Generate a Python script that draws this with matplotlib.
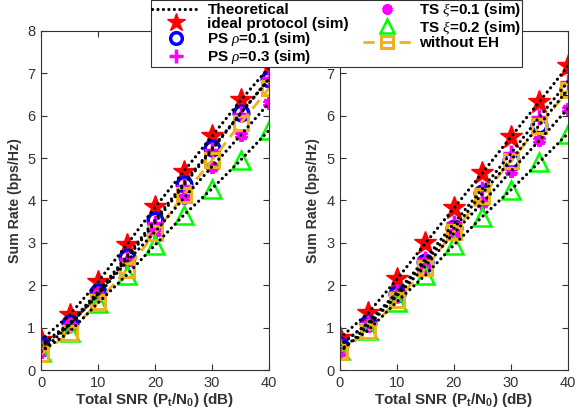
import matplotlib
matplotlib.use("Agg")
import matplotlib.pyplot as plt
import numpy as np

plt.rcParams['font.family'] = ['Liberation Sans', 'DejaVu Sans']
plt.rcParams['mathtext.fontset'] = 'custom'
plt.rcParams['mathtext.rm'] = 'Liberation Sans'
plt.rcParams['mathtext.bf'] = 'Liberation Sans:bold'
plt.rcParams['mathtext.it'] = 'Liberation Serif:italic'

snr = [0, 5, 10, 15, 20, 25, 30, 35, 40]

# left panel
left_ideal = [0.70, 1.30, 2.08, 2.95, 3.84, 4.68, 5.52, 6.36, 7.14]
left_ps1 = [0.59, 1.10, 1.85, 2.67, 3.54, 4.40, 5.23, 6.06, 6.86]
left_ps3 = [0.55, 1.06, 1.79, 2.62, 3.48, 4.35, 5.20, 6.05, 6.88]
left_ts1 = [0.43, 1.06, 1.77, 2.55, 3.26, 4.05, 4.80, 5.54, 6.30]
left_ts2 = [0.43, 0.90, 1.58, 2.24, 2.95, 3.65, 4.28, 4.95, 5.66]
left_noeh = [0.38, 0.87, 1.61, 2.36, 3.23, 4.13, 4.95, 5.82, 6.65]

# right panel
right_ideal = [0.75, 1.35, 2.14, 2.99, 3.82, 4.65, 5.50, 6.33, 7.17]
right_ps1 = [0.59, 1.10, 1.79, 2.55, 3.34, 4.17, 4.95, 5.78, 6.62]
right_ps3 = [0.57, 1.12, 1.83, 2.62, 3.46, 4.28, 5.11, 5.97, 6.80]
right_ts1 = [0.42, 1.05, 1.75, 2.45, 3.23, 3.95, 4.69, 5.42, 6.17]
right_ts2 = [0.47, 0.94, 1.61, 2.24, 2.95, 3.62, 4.25, 4.91, 5.58]
right_noeh = [0.43, 0.91, 1.65, 2.40, 3.26, 4.10, 4.94, 5.75, 6.60]

labels = ['Theoretical', 'ideal protocol (sim)', r'PS $\rho$=0.1 (sim)',
          r'PS $\rho$=0.3 (sim)', r'TS $\xi$=0.1 (sim)', r'TS $\xi$=0.2 (sim)',
          'without EH']

orange = '#EDB120'
asterisk = (6, 2, 0)
gray = '#333333'


def draw_panel(ax, ideal, ps1, ps3, ts1, ts2, noeh):
    h = [None]
    h.append(ax.plot(snr, ideal, linestyle='none', marker='*', color='r', markersize=17)[0])
    h.append(ax.plot(snr, ps1, linestyle='none', marker='o', mfc='none', mec='b', mew=2.5, markersize=10.5)[0])
    h.append(ax.plot(snr, ps3, linestyle='none', marker='+', color='#FF00FF', mew=2.5, markersize=12)[0])
    h.append(ax.plot(snr, ts1, linestyle='none', marker=asterisk, color='#FF00FF', mew=3, markersize=9)[0])
    h.append(ax.plot(snr, ts2, linestyle='none', marker='^', mfc='none', mec='#00FF00', mew=1.8, markersize=13)[0])
    h.append(ax.plot(snr, noeh, linestyle=(0, (4, 2.5)), color=orange, lw=2, marker='s',
                     mfc='none', mec=orange, mew=2.2, markersize=10)[0])
    for ys in [ideal, ps1, ps3, ts1, ts2]:
        th = ax.plot(snr, ys, linestyle=(0, (0.01, 1.7)), color='k', lw=2.3,
                     dash_capstyle='round')[0]
    h[0] = th

    ax.set_xlim(0, 40)
    ax.set_ylim(0, 8)
    ax.set_xticks([0, 10, 20, 30, 40])
    ax.set_yticks(range(0, 9))
    ax.tick_params(direction='in', top=True, right=True, length=4,
                   labelsize=10.5, colors=gray, labelcolor=gray, pad=4)
    for s in ax.spines.values():
        s.set_color(gray)
        s.set_linewidth(0.8)
    ax.set_xlabel(r'Total SNR (P$_\mathbf{t}$/N$_\mathbf{0}$) (dB)', fontsize=11,
                  fontweight='bold', color=gray, labelpad=1)
    ax.set_ylabel('Sum Rate (bps/Hz)', fontsize=10.2, fontweight='bold',
                  color=gray, labelpad=4)
    return h


fig = plt.figure(figsize=(5.76, 4.15), dpi=100)
ax1 = fig.add_axes([0.0712, 0.1084, 0.396, 0.817])
ax2 = fig.add_axes([0.590, 0.1084, 0.396, 0.817])

handles = draw_panel(ax1, left_ideal, left_ps1, left_ps3, left_ts1, left_ts2, left_noeh)
draw_panel(ax2, right_ideal, right_ps1, right_ps3, right_ts1, right_ts2, right_noeh)

leg = fig.legend(handles, labels, ncol=2, loc='upper left',
                 bbox_to_anchor=(0.262, 0.9995), prop={'weight': 'bold', 'size': 11},
                 frameon=True, fancybox=False, edgecolor=gray, framealpha=1,
                 borderpad=0.05, borderaxespad=0, labelspacing=-0.02, handlelength=3.2,
                 columnspacing=0.9, handletextpad=0.45, markerscale=0.8)
leg.get_frame().set_linewidth(0.8)

fig.savefig('out.png', dpi=100)
